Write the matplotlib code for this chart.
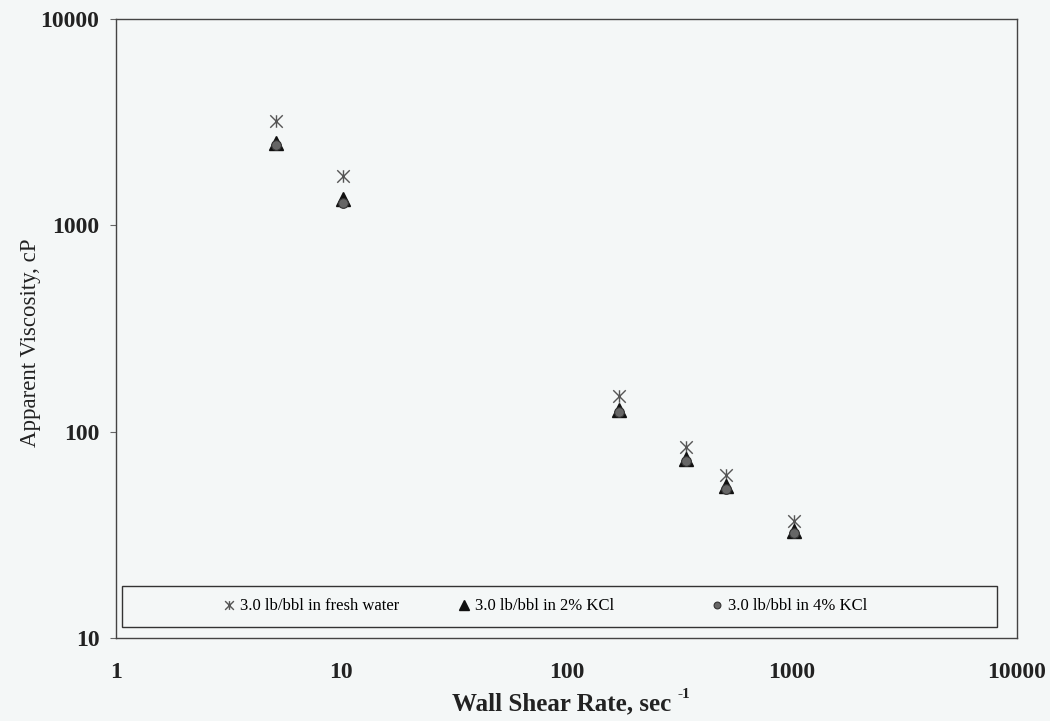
import matplotlib
matplotlib.use("Agg")
import matplotlib.pyplot as plt
from matplotlib.path import Path
from matplotlib.patches import Rectangle
from matplotlib.lines import Line2D
from matplotlib.legend import Legend
from matplotlib.ticker import FixedLocator, FixedFormatter, NullLocator

# ---- data ----
shear_rate = [5.11, 10.22, 170.3, 340.6, 511, 1022]
fresh_water = [3215, 1725, 149, 84, 62, 36.7]
kcl_2 = [2500, 1340, 128, 73.5, 54.5, 33.0]
kcl_4 = [2450, 1290, 124, 72.0, 53.0, 32.2]
series_labels = ["3.0 lb/bbl in fresh water", "3.0 lb/bbl in 2% KCl", "3.0 lb/bbl in 4% KCl"]
x_ticks = [1, 10, 100, 1000, 10000]
y_ticks = [10, 100, 1000, 10000]

plt.rcParams['font.family'] = ['Liberation Serif', 'DejaVu Serif']

bg = '#f4f7f7'
fig = plt.figure(figsize=(10.5, 7.21), dpi=100, facecolor=bg)
ax = fig.add_axes([116/1050, 1-638/721, (1017-116)/1050, (638-19)/721])
ax.set_facecolor(bg)

star = Path([(-1, -1), (1, 1), (-1, 1), (1, -1), (0, -1), (0, 1)],
            [Path.MOVETO, Path.LINETO, Path.MOVETO, Path.LINETO, Path.MOVETO, Path.LINETO])

styles = [
    dict(marker=star, markersize=9, markeredgecolor='#555555', markeredgewidth=1.0, color='#555555'),
    dict(marker='^', markersize=10, color='#111111', markeredgecolor='#111111'),
    dict(marker='o', markersize=7, color='#666666', markeredgecolor='#333333', markeredgewidth=0.8),
]
series = [fresh_water, kcl_2, kcl_4]
for i, (vals, st) in enumerate(zip(series, styles)):
    ax.plot(shear_rate, vals, linestyle='none', label=series_labels[i], zorder=3 + i, **st)

ax.set_xscale('log')
ax.set_yscale('log')
ax.set_xlim(1, 10000)
ax.set_ylim(10, 10000)

ax.xaxis.set_major_locator(FixedLocator(x_ticks))
ax.xaxis.set_major_formatter(FixedFormatter([str(v) for v in x_ticks]))
ax.yaxis.set_major_locator(FixedLocator(y_ticks))
ax.yaxis.set_major_formatter(FixedFormatter([str(v) for v in y_ticks]))
ax.xaxis.set_minor_locator(NullLocator())
ax.yaxis.set_minor_locator(NullLocator())

ax.tick_params(axis='y', which='major', direction='out', length=4, width=0.8,
               color='#666666', labelsize=17, pad=8)
ax.tick_params(axis='x', which='major', length=0, labelsize=17, pad=17)
for lab in ax.get_xticklabels() + ax.get_yticklabels():
    lab.set_fontweight('bold')
    lab.set_color('#222222')

for s in ax.spines.values():
    s.set_color('#444444')
    s.set_linewidth(1.0)

xl = ax.set_xlabel('Wall Shear Rate, sec', fontsize=18, fontweight='bold', color='#222222')
ax.xaxis.set_label_coords((562 - 116) / 901, (638 - 692) / 619)
ax.set_ylabel('Apparent Viscosity, cP', fontsize=16.5, color='#222222')
ax.yaxis.set_label_coords((41 - 116) / 901, (638 - 343) / 619)

# legend box
x0 = (122 - 116) / 901
x1 = (997 - 116) / 901
y0 = (638 - 627) / 619
y1 = (638 - 586) / 619
ax.add_patch(Rectangle((x0, y0), x1 - x0, y1 - y0, transform=ax.transAxes,
                       facecolor=bg, edgecolor='#333333', linewidth=1.0, zorder=6))
handle_px = [222, 457, 710]
ymid = (y0 + y1) / 2
for i, st in enumerate(styles):
    h = Line2D([], [], linestyle='none', **dict(st, markersize=st['markersize'] * 0.7))
    lg = Legend(ax, [h], [series_labels[i]], loc='center left',
                bbox_to_anchor=((handle_px[i] - 116) / 901, ymid),
                bbox_transform=ax.transAxes,
                frameon=False, fontsize=12, handlelength=0.8, handletextpad=0.3,
                borderpad=0, borderaxespad=0)
    lg.set_zorder(7)
    ax.add_artist(lg)

fig.canvas.draw()
bb = xl.get_window_extent()
fig.text(bb.x1 + 6, bb.y1 - 9, '-1', fontsize=11, fontweight='bold', color='#222222',
         transform=None, va='bottom', ha='left')

fig.savefig('out.png', dpi=100, facecolor=bg)
